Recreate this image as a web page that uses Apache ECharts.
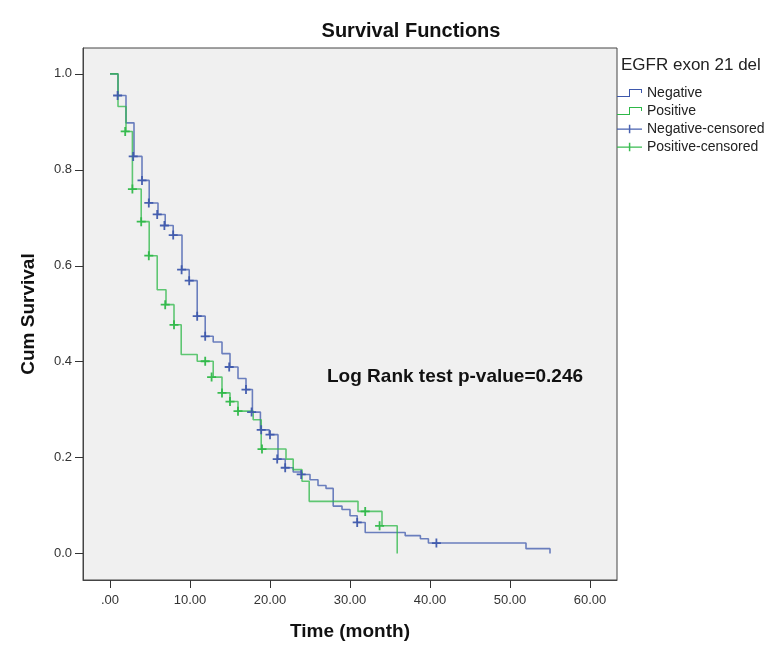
<!DOCTYPE html>
<html><head><meta charset="utf-8">
<script src="https://cdn.jsdelivr.net/npm/echarts@6/dist/echarts.min.js"></script>
<style>html,body{margin:0;padding:0;background:#fff}#c{width:775px;height:660px}</style>
</head><body><div id="c"></div><script>
// Kaplan-Meier steps: time (month) and cumulative survival after each drop
const negTime = [0,1.0,2.0,3.0,4.0,4.9,6.0,6.9,7.9,9.0,9.9,10.9,11.9,12.9,14.0,15.0,16.0,17.0,17.8,18.8,19.9,21.0,21.9,22.9,24.0,25.0,26.0,27.0,27.9,29.0,30.0,30.9,31.9,36.9,38.8,39.8,52.0,55.0];
const negSurv = [1.0,0.955,0.898,0.828,0.778,0.731,0.707,0.684,0.664,0.592,0.569,0.495,0.453,0.441,0.417,0.389,0.365,0.342,0.295,0.258,0.248,0.197,0.179,0.170,0.165,0.154,0.142,0.136,0.099,0.092,0.079,0.065,0.044,0.0375,0.031,0.022,0.0104,0.0];
const posTime = [0,1.0,2.0,2.8,3.9,4.9,5.9,7.0,8.0,8.9,10.9,12.9,14.0,15.0,16.0,17.9,18.9,22.0,22.9,24.0,24.9,31.0,34.0,35.9];
const posSurv = [1.0,0.932,0.880,0.760,0.692,0.621,0.550,0.519,0.477,0.415,0.401,0.368,0.335,0.317,0.297,0.279,0.218,0.197,0.175,0.151,0.109,0.088,0.058,0.0];
// censored observations
const negCensTime = [0.95,2.9,4.0,4.85,5.9,6.8,7.9,8.95,9.9,10.9,11.9,14.9,17.0,17.7,18.9,20.0,20.9,21.9,23.9,30.9,40.8];
const negCensSurv = [0.955,0.828,0.778,0.731,0.707,0.684,0.664,0.592,0.569,0.495,0.453,0.389,0.342,0.295,0.258,0.248,0.197,0.179,0.165,0.065,0.022];
const posCensTime = [1.9,2.8,3.9,4.85,6.9,8.0,11.9,12.7,14.0,15.0,16.0,19.0,31.9,33.7];
const posCensSurv = [0.880,0.760,0.692,0.621,0.519,0.477,0.401,0.368,0.335,0.317,0.297,0.218,0.088,0.058];
// tick labels
const xTicks = [0,10,20,30,40,50,60];
const xTickLabels = ['.00','10.00','20.00','30.00','40.00','50.00','60.00'];
const yTicks = [0,0.2,0.4,0.6,0.8,1.0];
const yTickLabels = ['0.0','0.2','0.4','0.6','0.8','1.0'];

const seriesNames = ['Negative','Positive','Negative-censored','Positive-censored'];
const BLUE = '#3E58AC', GREEN = '#2EB848';
const FONT = '"Liberation Sans", Arial, sans-serif';

const zip = (a, b) => a.map((v, i) => [v, b[i]]);
const stepIcon = 'path://M0,7 H12 V0 H25 V4 H24 V1 H13 V8 H0 Z';
const plusIcon = 'path://M0,4 H27 V5.2 H0 Z M12.8,0 H14.4 V9 H12.8 Z';
const plusSymbol = 'path://M3.2,0 H4.8 V3.2 H8 V4.8 H4.8 V8 H3.2 V4.8 H0 V3.2 H3.2 Z';

const chart = echarts.init(document.getElementById('c'), null, {renderer: 'canvas'});
chart.setOption({
  backgroundColor: '#fff',
  animation: false,
  textStyle: {fontFamily: FONT},
  title: [
    {text: 'Survival Functions', left: 411, top: 21, textAlign: 'center', padding: 0,
     textStyle: {fontSize: 20, fontWeight: 'bold', color: '#111', fontFamily: FONT}},
    {text: 'EGFR exon 21 del', left: 621, top: 57, padding: 0,
     textStyle: {fontSize: 17, fontWeight: 'normal', color: '#222', fontFamily: FONT}}
  ],
  legend: {
    orient: 'vertical', left: 617, top: 86, padding: 0, itemWidth: 25, itemHeight: 9, itemGap: 4,
    textStyle: {fontSize: 14, color: '#222', fontFamily: FONT},
    data: [
      {name: seriesNames[0], icon: stepIcon},
      {name: seriesNames[1], icon: stepIcon},
      {name: seriesNames[2], icon: plusIcon},
      {name: seriesNames[3], icon: plusIcon}
    ]
  },
  grid: {left: 83, right: 158, top: 48, bottom: 80, show: true,
         backgroundColor: '#f0f0f0', borderColor: '#444', borderWidth: 1},
  xAxis: {
    type: 'value', min: -3.375, max: 63.375,
    name: 'Time (month)', nameLocation: 'middle', nameGap: 42,
    nameTextStyle: {fontSize: 19, fontWeight: 'bold', color: '#111', fontFamily: FONT},
    axisLine: {show: true, onZero: false, lineStyle: {color: '#444'}},
    axisTick: {show: true, inside: false, length: 8, customValues: xTicks, lineStyle: {color: '#333'}},
    axisLabel: {show: true, customValues: xTicks, margin: 14, fontSize: 13, color: '#333', fontFamily: FONT,
      formatter: v => xTickLabels[xTicks.indexOf(Math.round(v))] ?? ''},
    splitLine: {show: false}
  },
  yAxis: {
    type: 'value', min: -0.055, max: 1.054,
    name: 'Cum Survival', nameLocation: 'middle', nameGap: 45,
    nameTextStyle: {fontSize: 19, fontWeight: 'bold', color: '#111', fontFamily: FONT},
    axisLine: {show: true, onZero: false, lineStyle: {color: '#444'}},
    axisTick: {show: true, inside: false, length: 8, customValues: yTicks, lineStyle: {color: '#333'}},
    axisLabel: {show: true, customValues: yTicks, margin: 11, fontSize: 13, color: '#333', fontFamily: FONT,
      formatter: v => yTickLabels[yTicks.findIndex(t => Math.abs(t - v) < 1e-6)] ?? ''},
    splitLine: {show: false}
  },
  graphic: [
    {type: 'text', left: 327, top: 367, z: 100,
     style: {text: 'Log Rank test p-value=0.246', fontSize: 19, fontWeight: 'bold', fill: '#111', fontFamily: FONT}}
  ],
  series: [
    {name: seriesNames[0], type: 'line', step: 'end', data: zip(negTime, negSurv), showSymbol: false,
     itemStyle: {color: BLUE}, lineStyle: {color: BLUE, width: 1.6, opacity: 0.75}, z: 2},
    {name: seriesNames[1], type: 'line', step: 'end', data: zip(posTime, posSurv), showSymbol: false,
     itemStyle: {color: GREEN}, lineStyle: {color: GREEN, width: 1.6, opacity: 0.75}, z: 3},
    {name: seriesNames[2], type: 'scatter', data: zip(negCensTime, negCensSurv), symbol: plusSymbol, symbolSize: 9,
     itemStyle: {color: BLUE, opacity: 0.95}, z: 4},
    {name: seriesNames[3], type: 'scatter', data: zip(posCensTime, posCensSurv), symbol: plusSymbol, symbolSize: 9,
     itemStyle: {color: GREEN, opacity: 0.95}, z: 4}
  ]
});
</script></body></html>
